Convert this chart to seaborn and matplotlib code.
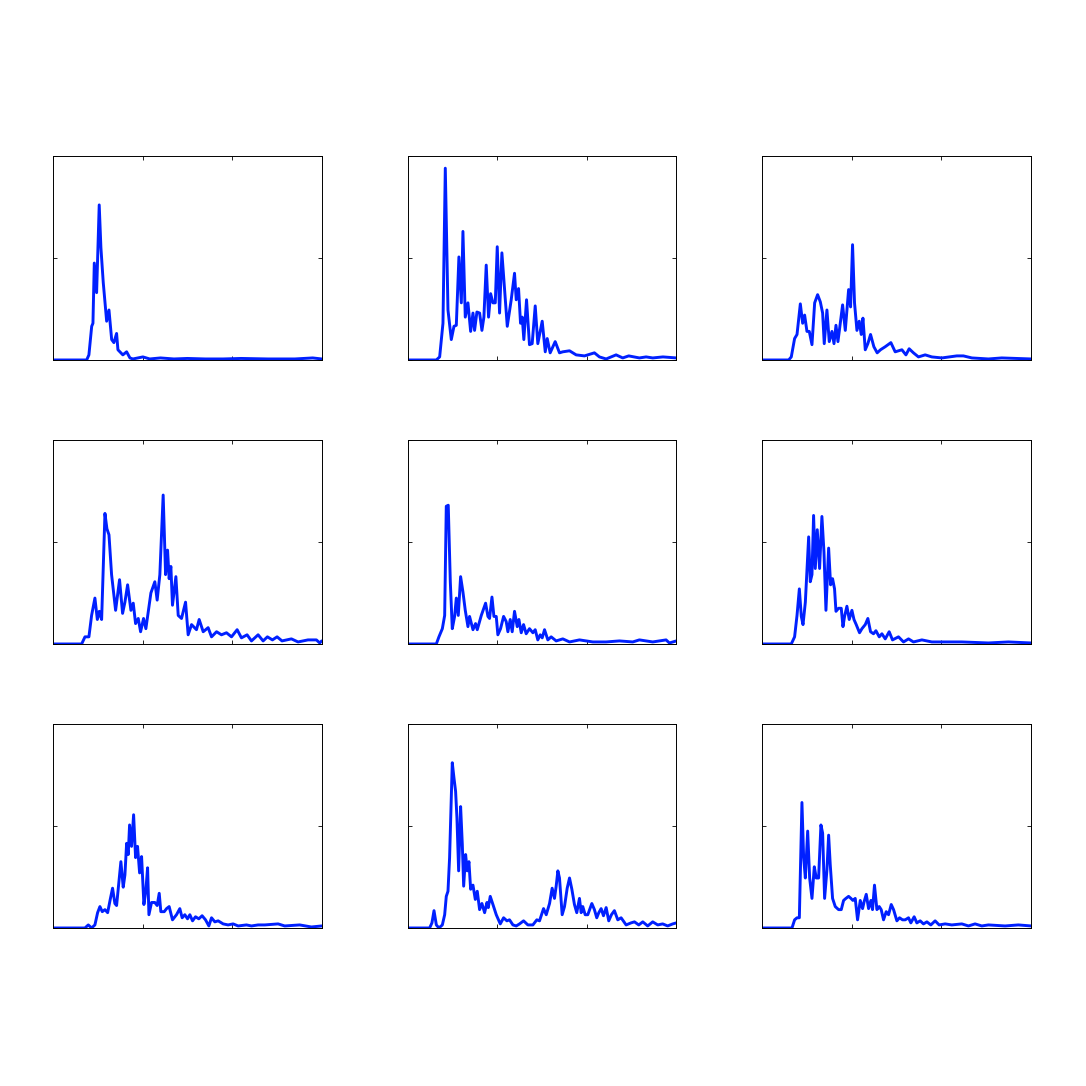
import matplotlib
matplotlib.use("Agg")
import matplotlib.pyplot as plt
import seaborn as sns

# each panel: x positions and y values
x1 = [0, 37.6, 40.1, 43.2, 44.6, 46.1, 48.7, 51.6, 53.5, 56.1, 59.9, 62.5, 65.5, 68, 71, 72.5,
      74.7, 78, 82.2, 85.9, 89.2, 94.8, 100.4, 108, 120, 135, 150, 170, 190, 210, 240, 270, 290, 300]
y1 = [0, 0, 0.05, 0.33, 0.36, 0.95, 0.66, 1.52, 1.1, 0.76, 0.38, 0.49, 0.2, 0.17, 0.26, 0.1,
      0.08, 0.05, 0.08, 0.02, 0.01, 0.02, 0.03, 0.01, 0.02, 0.01, 0.015, 0.01, 0.01, 0.015, 0.01, 0.01, 0.02, 0.01]

x2 = [0, 32, 35.7, 39.4, 42, 45, 48.7, 51.7, 54.3, 57.2, 59.9, 61.7, 64.3, 67.3, 70.3, 72.9, 74.7,
      77.3, 80.3, 82.9, 85.1, 87.7, 90.3, 92.6, 95.2, 97.8, 100, 102.6, 105.2, 108.2, 111.2, 115.6,
      119.3, 121.2, 123.8, 126, 127.9, 129.7, 132.7, 136, 139, 142.4, 145.3, 150.2, 153.6, 155.8,
      159.1, 164.7, 169.5, 173.2, 180.7, 188.1, 197.4, 208.5, 214.1, 221.6, 232.7, 240.1, 246.8,
      258.7, 266.2, 273.6, 285, 300]
y2 = [0, 0, 0.03, 0.36, 1.88, 0.49, 0.2, 0.33, 0.34, 1.01, 0.56, 1.26, 0.42, 0.56, 0.28, 0.46, 0.29,
      0.47, 0.46, 0.29, 0.42, 0.93, 0.42, 0.65, 0.56, 0.56, 1.11, 0.46, 1.05, 0.69, 0.33, 0.59,
      0.85, 0.59, 0.70, 0.36, 0.42, 0.2, 0.59, 0.15, 0.16, 0.53, 0.16, 0.38, 0.08, 0.21,
      0.07, 0.18, 0.07, 0.08, 0.09, 0.05, 0.04, 0.07, 0.03, 0.01, 0.05, 0.02, 0.04,
      0.02, 0.03, 0.02, 0.03, 0.02]

x3 = [0, 29.4, 32.3, 36, 38.7, 42.4, 45, 47.2, 49.8, 52.4, 55.4, 58.4, 61.7, 64.7, 67.3, 69.1, 72.1,
      74.7, 77.7, 80, 82.2, 84.4, 87, 89.6, 92.6, 96.3, 98.5, 100.7, 102.9, 105.6, 108.2, 110.4,
      112.3, 114.9, 117.8, 120.8, 124.5, 128.2, 131.9, 137.2, 143.5, 148.3, 155.8, 160.3, 163.9,
      168.7, 174.3, 181.8, 189.2, 200.4, 217.1, 224.5, 233.9, 252.4, 267.3, 300]
y3 = [0, 0, 0.03, 0.21, 0.25, 0.55, 0.36, 0.44, 0.28, 0.28, 0.15, 0.56, 0.64, 0.57, 0.46, 0.16, 0.49,
      0.18, 0.28, 0.16, 0.34, 0.18, 0.36, 0.54, 0.29, 0.69, 0.52, 1.13, 0.56, 0.29, 0.38, 0.25,
      0.41, 0.10, 0.16, 0.25, 0.13, 0.07, 0.10, 0.13, 0.17, 0.08, 0.10, 0.05, 0.11,
      0.07, 0.03, 0.05, 0.03, 0.02, 0.04, 0.04, 0.02, 0.01, 0.02, 0.01]

x4 = [0, 32, 35.7, 40.1, 43.1, 46.8, 49.5, 51.7, 54.3, 58, 60.2, 62.5, 65.4, 69.9, 74.3, 77.7, 80.3,
      83.3, 87, 89.6, 92.2, 95.2, 97.8, 101.1, 103.7, 109.3, 113.7, 116.3, 119.3, 123, 125.7, 127.9,
      129.7, 131.6, 133.4, 137.2, 139.8, 143.5, 148, 150.9, 154.7, 160.2, 163.2, 167.7, 173.2, 177,
      182.6, 188.1, 193.7, 199.3, 205.6, 210.4, 216.7, 221.6, 229, 234.6, 239.4, 245, 250.2, 255.7,
      266.2, 273.6, 284.7, 294.1, 297.8, 300]
y4 = [0, 0, 0.07, 0.07, 0.28, 0.45, 0.24, 0.32, 0.24, 1.28, 1.13, 1.07, 0.68, 0.33, 0.63, 0.30, 0.41,
      0.58, 0.33, 0.40, 0.20, 0.25, 0.12, 0.25, 0.15, 0.50, 0.61, 0.43, 0.68, 1.46, 0.68, 0.92,
      0.64, 0.76, 0.38, 0.66, 0.28, 0.25, 0.41, 0.09, 0.19, 0.14, 0.24, 0.12, 0.16, 0.07,
      0.12, 0.09, 0.11, 0.07, 0.14, 0.06, 0.09, 0.03, 0.09, 0.03, 0.07, 0.04, 0.07, 0.03,
      0.05, 0.02, 0.04, 0.04, 0.01, 0.03]

x5 = [0, 32, 34.9, 38.7, 41.3, 43.1, 45.3, 47.6, 49.8, 52.4, 54.3, 56.5, 59.1, 61.7, 64.3, 67.3, 69.1,
      72.9, 75.8, 77.7, 82.2, 87, 89.6, 91.4, 94.1, 96.3, 98.9, 100.7, 103.7, 107.1, 110, 111.9,
      114.5, 116.7, 119.3, 122.3, 124.2, 126.8, 129.4, 132.3, 136, 139.8, 142.4, 145.3, 148, 150.2,
      152.8, 156.5, 160.2, 165.8, 173.2, 180.7, 191.8, 206.7, 221.6, 236.4, 251.3, 258.7, 273.6,
      288.5, 292.2, 300]
y5 = [0, 0, 0.07, 0.15, 0.28, 1.35, 1.36, 0.61, 0.15, 0.27, 0.45, 0.28, 0.66, 0.51, 0.33, 0.17, 0.27,
      0.14, 0.20, 0.14, 0.28, 0.40, 0.27, 0.25, 0.46, 0.27, 0.27, 0.09, 0.15, 0.27, 0.22, 0.12,
      0.24, 0.12, 0.32, 0.17, 0.24, 0.11, 0.19, 0.10, 0.15, 0.11, 0.14, 0.04, 0.09, 0.06,
      0.14, 0.04, 0.07, 0.03, 0.05, 0.02, 0.04, 0.02, 0.02, 0.03, 0.02, 0.04, 0.02,
      0.04, 0.01, 0.03]

x6 = [0, 32.3, 36, 38.7, 41.3, 43.5, 45.4, 48, 51.7, 53.5, 55.4, 57.2, 59.1, 61.3, 63.9, 66.5, 68.8,
      71, 74, 76.2, 78.4, 80.6, 82.2, 85.1, 88.1, 90, 91.8, 94.4, 97, 100, 102.3, 104.8, 108.5,
      111.2, 114.9, 117.8, 120.8, 124.1, 126.8, 130.5, 133.5, 137.2, 141.6, 145.3, 152, 157.6,
      163.2, 168.7, 178.1, 189.2, 204.1, 222.7, 252.4, 274.7, 300]
y6 = [0, 0, 0.07, 0.28, 0.54, 0.27, 0.19, 0.41, 1.05, 0.61, 0.68, 1.26, 0.74, 1.12, 0.74, 1.25, 0.90,
      0.33, 0.94, 0.58, 0.64, 0.54, 0.32, 0.35, 0.35, 0.17, 0.27, 0.37, 0.24, 0.33, 0.24, 0.19, 0.11,
      0.15, 0.19, 0.25, 0.12, 0.10, 0.13, 0.07, 0.10, 0.05, 0.12, 0.04, 0.07, 0.02,
      0.05, 0.02, 0.04, 0.02, 0.02, 0.02, 0.01, 0.02, 0.01]

x7 = [0, 35.7, 39.4, 43.1, 46.8, 49.8, 52.4, 55, 58, 61, 63.9, 66.5, 69.1, 71, 72.9, 75.8, 78.4, 80.3,
      82.2, 84, 85.5, 87.7, 90, 92.2, 94.4, 96.7, 98.9, 101.5, 103.7, 105.6, 107.1, 110, 113.7,
      116.3, 118.6, 120.4, 124.2, 126.8, 129.7, 133.4, 137.9, 141.6, 144.2, 147.2, 150.2, 152.8,
      155.8, 159.1, 162.8, 166.5, 170.3, 174, 177, 180.7, 184.4, 190, 195.5, 201.1, 206.7, 216,
      221.6, 229, 236.4, 251.3, 258.7, 275.4, 288.5, 300]
y7 = [0, 0, 0.03, 0.0, 0.03, 0.15, 0.21, 0.16, 0.18, 0.15, 0.28, 0.39, 0.24, 0.22, 0.39, 0.65, 0.40, 0.52,
      0.83, 0.72, 1.01, 0.80, 1.11, 0.69, 0.80, 0.54, 0.70, 0.23, 0.37, 0.59, 0.13, 0.25, 0.25,
      0.22, 0.34, 0.16, 0.16, 0.19, 0.21, 0.08, 0.13, 0.19, 0.10, 0.13, 0.09, 0.13,
      0.07, 0.11, 0.09, 0.12, 0.08, 0.02, 0.10, 0.06, 0.07, 0.04, 0.03, 0.04, 0.02, 0.03,
      0.02, 0.03, 0.03, 0.04, 0.02, 0.03, 0.01, 0.02]

x8 = [0, 24.5, 27.1, 29.4, 32, 34.9, 38.7, 41.3, 43.1, 45, 46.8, 49.8, 51.7, 53.5, 55, 56.9, 59.1, 61,
      62.5, 64.7, 66.5, 68.4, 70.3, 72.9, 75.5, 77.7, 80.3, 82.9, 85.9, 88.5, 90, 92.2, 95.2, 98.9,
      103.4, 107.1, 110.8, 113.7, 117.5, 121.2, 124.9, 129.4, 134.2, 139.8, 144.2, 147.2, 151.7,
      154.7, 158.4, 161.3, 163.9, 165.8, 167.7, 169.5, 172.5, 175.1, 178.1, 180.7, 183.3, 186.2,
      188.8, 191.8, 193.7, 195.5, 198.2, 201.1, 205.6, 208.5, 211.1, 213.4, 216, 218.6, 221.6,
      224.5, 227.5, 230.8, 234.6, 238.3, 243.9, 249.4, 253.2, 258, 262.5, 268, 273.6, 279.2,
      284.7, 290.3, 295.9, 300]
y8 = [0, 0, 0.05, 0.17, 0.03, 0, 0.03, 0.13, 0.31, 0.36, 0.69, 1.62, 1.47, 1.34, 1.08, 0.56, 1.19, 0.82,
      0.41, 0.72, 0.56, 0.65, 0.38, 0.42, 0.28, 0.36, 0.18, 0.24, 0.15, 0.25, 0.20, 0.31, 0.23, 0.13,
      0.04, 0.10, 0.07, 0.08, 0.03, 0.02, 0.04, 0.07, 0.03, 0.03, 0.08, 0.07, 0.19,
      0.13, 0.24, 0.39, 0.29, 0.41, 0.56, 0.49, 0.13, 0.21, 0.39, 0.49, 0.38, 0.23,
      0.15, 0.29, 0.15, 0.21, 0.13, 0.13, 0.24, 0.18, 0.10, 0.15, 0.19, 0.12, 0.20,
      0.07, 0.13, 0.17, 0.08, 0.10, 0.03, 0.05, 0.06, 0.03, 0.06, 0.02, 0.06, 0.03,
      0.04, 0.02, 0.04, 0.05]

x9 = [0, 33.1, 36, 38.7, 41.3, 44.2, 46.1, 48, 50.6, 52.8, 55.4, 58, 60.2, 62.8, 65.4, 67.3, 69.5, 72.1,
      74, 75.8, 78.4, 81.4, 85.1, 88.1, 90.7, 93.3, 96.3, 98.9, 101.1, 103.7, 106.3, 109.3, 111.9,
      113.7, 116, 118.6, 121.2, 123, 125.2, 127.9, 130.5, 132.7, 135.3, 138.3, 140.9, 143.9, 146.5,
      150.2, 153.2, 156.5, 159.5, 163.2, 165.8, 169.5, 172.5, 176.2, 179.9, 183.7, 188.1, 192.9,
      197.4, 204.1, 211.5, 222.7, 230.1, 237.5, 245, 252.4, 271, 285.8, 300]
y9 = [0, 0, 0.08, 0.10, 0.10, 1.23, 0.69, 0.49, 0.95, 0.49, 0.29, 0.60, 0.49, 0.49, 1.01, 0.93, 0.29, 0.57,
      0.91, 0.62, 0.29, 0.21, 0.18, 0.18, 0.27, 0.29, 0.31, 0.29, 0.27, 0.29, 0.08, 0.27, 0.19,
      0.26, 0.33, 0.19, 0.27, 0.18, 0.42, 0.18, 0.21, 0.18, 0.08, 0.16, 0.13, 0.23, 0.18,
      0.07, 0.10, 0.08, 0.08, 0.10, 0.05, 0.11, 0.05, 0.07, 0.04, 0.06, 0.03, 0.07,
      0.03, 0.04, 0.03, 0.04, 0.02, 0.04, 0.02, 0.03, 0.02, 0.03, 0.02]

panels = [(x1, y1), (x2, y2), (x3, y3),
          (x4, y4), (x5, y5), (x6, y6),
          (x7, y7), (x8, y8), (x9, y9)]

sns.set_style("white")
plt.rcParams['font.family'] = ['DejaVu Sans']

fig, axes = plt.subplots(3, 3, figsize=(10.86, 10.86), dpi=100)
fig.subplots_adjust(left=0.0488, right=0.9494, top=0.8564, bottom=0.1455, wspace=0.32, hspace=0.392)

for ax, (xs, ys) in zip(axes.flat, panels):
    sns.lineplot(x=xs, y=ys, ax=ax, color='#0020ff', linewidth=2.1, sort=False)
    ax.set_xlim(0, 300)
    ax.set_ylim(0, 2)
    ax.set_xticks([0, 100, 200, 300])
    ax.set_yticks([0, 1, 2])
    ax.set_xticklabels([])
    ax.set_yticklabels([])
    ax.tick_params(direction='in', length=3, width=0.6, top=True, right=True,
                   bottom=True, left=True, color='black')
    for sp in ax.spines.values():
        sp.set_visible(True)
        sp.set_color('black')
        sp.set_linewidth(0.7)

fig.savefig("out.png", dpi=100, facecolor='white')
